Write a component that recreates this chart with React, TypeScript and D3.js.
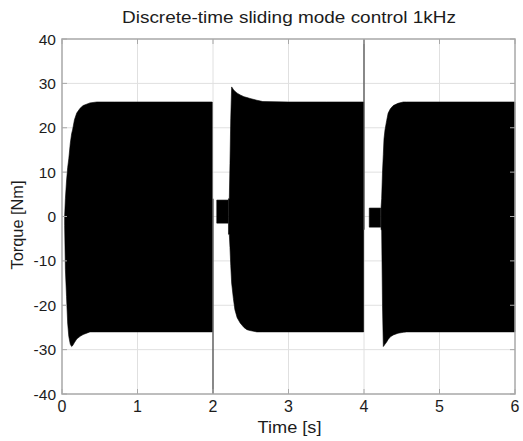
import React from "react";
import * as d3 from "d3";

// ---- data ----
const titleText = "Discrete-time sliding mode control 1kHz";
const xLabel = "Time [s]";
const yLabel = "Torque [Nm]";
const xTicks = [0, 1, 2, 3, 4, 5, 6];
const yTicks = [-40, -30, -20, -10, 0, 10, 20, 30, 40];

// Envelope of the high-frequency chattering torque, segment 1 (0..2 s)
const seg1Time = [0.035, 0.045, 0.06, 0.075, 0.09, 0.11, 0.128, 0.14, 0.165, 0.195, 0.24, 0.28, 0.37, 0.46, 0.7, 1.0, 1.5, 1.99];
const seg1Upper = [0, 4, 8, 11, 13, 16.5, 18.7, 19.5, 21.8, 23.3, 24.4, 25, 25.6, 25.8, 25.8, 25.8, 25.8, 25.8];
const seg1Lower = [-2, -12, -18, -24, -27, -28.8, -29.3, -29.1, -28.4, -27.6, -27, -26.6, -26, -26, -26, -26, -26, -26];

// small oscillation just after the step at 2 s
const box1Time = [2.05, 2.2];
const box1Upper = [3.7, 3.7];
const box1Lower = [-1.5, -1.5];

// segment 2 (2.2..4 s)
const seg2Time = [2.205, 2.216, 2.225, 2.235, 2.247, 2.27, 2.29, 2.32, 2.36, 2.41, 2.45, 2.49, 2.58, 2.66, 3.0, 3.5, 3.995];
const seg2Upper = [4, 4, 12, 22, 29.2, 28.6, 28.2, 27.8, 27.4, 27.0, 26.8, 26.6, 26.2, 25.9, 25.8, 25.8, 25.8];
const seg2Lower = [-4, -4, -7, -11, -15, -18.5, -21, -22.8, -24, -25, -25.5, -25.7, -26, -26, -26, -26, -26];

// small oscillation just after the step at 4 s
const box2Time = [4.07, 4.22];
const box2Upper = [1.9, 1.9];
const box2Lower = [-2.4, -2.4];

// segment 3 (4.22..6 s)
const seg3Time = [4.226, 4.234, 4.245, 4.256, 4.265, 4.278, 4.3, 4.32, 4.35, 4.388, 4.45, 4.52, 4.565, 5.0, 5.5, 6.0];
const seg3Upper = [2, 4, 10, 14, 17.5, 19.5, 21.6, 23.3, 24.3, 25, 25.5, 25.8, 25.8, 25.8, 25.8, 25.8];
const seg3Lower = [-3, -3, -20, -29.3, -29.1, -28.8, -28.3, -27.7, -27.1, -26.7, -26.3, -26.1, -26, -26, -26, -26];

// single-sample spikes at the switching instants
const spikeTime = [2.0, 4.0];
const spikeFrom = [4, -3];
const spikeTo = [-40, 40];

// ---- layout ----
const W = 523;
const H = 441;
const left = 62;
const right = 515;
const top = 39;
const bottom = 394;
const font = "'Liberation Sans', Arial, Helvetica, sans-serif";

export default function App() {
  const x = d3.scaleLinear().domain([0, 6]).range([left, right]);
  const y = d3.scaleLinear().domain([-40, 40]).range([bottom, top]);

  const area = d3
    .area<{ t: number; u: number; l: number }>()
    .x((d) => x(d.t))
    .y0((d) => y(d.l))
    .y1((d) => y(d.u))
    .curve(d3.curveLinear);

  const segments = [
    [seg1Time, seg1Upper, seg1Lower],
    [box1Time, box1Upper, box1Lower],
    [seg2Time, seg2Upper, seg2Lower],
    [box2Time, box2Upper, box2Lower],
    [seg3Time, seg3Upper, seg3Lower],
  ].map(([ts, us, ls]) => ts.map((t, i) => ({ t, u: us[i], l: ls[i] })));

  const axisColor = "#a8a8a8";
  const gridColor = "#e0e0e0";
  const textColor = "#1c1c1c";

  return (
    <svg width={W} height={H} style={{ position: "absolute", left: 0, top: 0, background: "#fff" }}>
      <rect x={0} y={0} width={W} height={H} fill="#fff" />
      {/* grid */}
      {xTicks.slice(1, -1).map((v) => (
        <line key={"gx" + v} x1={x(v)} x2={x(v)} y1={top} y2={bottom} stroke={gridColor} strokeWidth={1} />
      ))}
      {yTicks.slice(1, -1).map((v) => (
        <line key={"gy" + v} x1={left} x2={right} y1={y(v)} y2={y(v)} stroke={gridColor} strokeWidth={1} />
      ))}
      {/* data envelope */}
      {segments.map((seg, i) => (
        <path key={"s" + i} d={area(seg) || ""} fill="#000" stroke="#000" strokeWidth={0.6} />
      ))}
      {spikeTime.map((t, i) => (
        <line key={"sp" + i} x1={x(t)} x2={x(t)} y1={y(spikeFrom[i])} y2={y(spikeTo[i])} stroke="#444" strokeWidth={1.2} />
      ))}
      {/* axes box */}
      <rect x={left} y={top} width={right - left} height={bottom - top} fill="none" stroke={axisColor} strokeWidth={1.5} />
      {xTicks.map((v) => (
        <g key={"tx" + v}>
          <line x1={x(v)} x2={x(v)} y1={bottom} y2={bottom - 5} stroke={axisColor} />
          <line x1={x(v)} x2={x(v)} y1={top} y2={top + 5} stroke={axisColor} />
          <text x={x(v)} y={412} textAnchor="middle" fontFamily={font} fontSize={16} fill={textColor}>
            {v}
          </text>
        </g>
      ))}
      {yTicks.map((v) => (
        <g key={"ty" + v}>
          <line x1={left} x2={left + 5} y1={y(v)} y2={y(v)} stroke={axisColor} />
          <line x1={right} x2={right - 5} y1={y(v)} y2={y(v)} stroke={axisColor} />
          <text x={56} y={y(v) + 5.5} textAnchor="end" fontFamily={font} fontSize={15.5} fill={textColor}>
            {v}
          </text>
        </g>
      ))}
      <text x={289} y={23} textAnchor="middle" fontFamily={font} fontSize={16.5} fill={textColor} textLength={334} lengthAdjust="spacingAndGlyphs">
        {titleText}
      </text>
      <text x={289.5} y={433} textAnchor="middle" fontFamily={font} fontSize={16.5} fill={textColor} textLength={64} lengthAdjust="spacingAndGlyphs">
        {xLabel}
      </text>
      <text transform={`translate(23, 225) rotate(-90)`} textAnchor="middle" fontFamily={font} fontSize={16} fill={textColor} textLength={89} lengthAdjust="spacingAndGlyphs">
        {yLabel}
      </text>
    </svg>
  );
}
